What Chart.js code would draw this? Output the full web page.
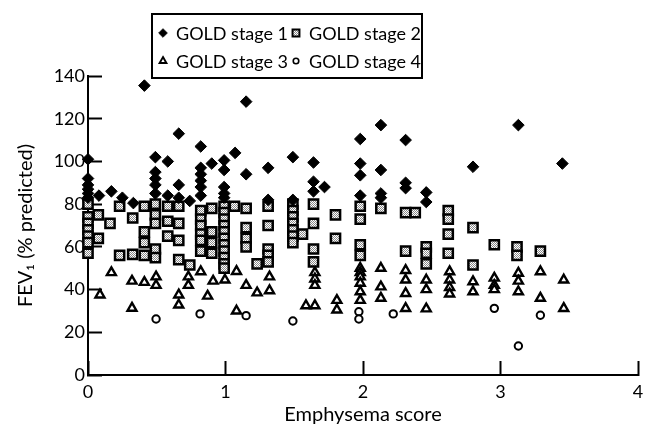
<!DOCTYPE html>
<html>
<head>
<meta charset="utf-8">
<script src="https://cdn.jsdelivr.net/npm/chart.js@4/dist/chart.umd.min.js"></script>
<style>
  html, body { margin: 0; padding: 0; background: #fff; }
  canvas { display: block; }
</style>
</head>
<body>
<canvas id="fev-chart" width="647" height="427"></canvas>
<script>
// Emphysema score columns and FEV1 values, per GOLD stage
const stage1Scores = [0, 0.08, 0.17, 0.25, 0.33, 0.41, 0.49, 0.58, 0.66, 0.74, 0.82, 0.9, 0.99, 1.07, 1.15, 1.31, 1.49, 1.64, 1.72, 1.98, 2.13, 2.31, 2.46, 2.8, 3.13, 3.45];
const stage1Fev = [[101, 92, 89, 87, 85, 83], [84], [86], [83], [80.5], [135.5], [102, 95, 92, 89, 85], [100, 84], [113, 89, 83], [81.5], [107, 97, 94, 91, 88, 84], [99], [100.5, 96, 88, 85, 83], [104], [128, 94], [97, 82], [102, 82], [99.5, 90.5, 86], [88], [110.5, 99, 93.5, 84], [117, 96, 85, 83], [110, 90, 87.5], [85.5, 81], [97.5], [117], [99]];

const stage2Scores = [0, 0.075, 0.16, 0.23, 0.325, 0.41, 0.49, 0.58, 0.66, 0.74, 0.82, 0.9, 0.99, 1.065, 1.15, 1.23, 1.31, 1.49, 1.56, 1.64, 1.8, 1.98, 2.13, 2.31, 2.38, 2.46, 2.62, 2.8, 2.955, 3.12, 3.29];
const stage2Fev = [[80, 74, 71, 68, 65, 62, 57], [75, 64], [71], [79, 56], [73.5, 56.5], [79, 67, 62, 56], [80, 75, 71, 59, 55], [79, 72, 65], [79, 71, 63, 54], [51.5], [77, 73, 70, 66, 63, 58], [78, 67, 62, 57], [79, 76, 73, 70, 67, 64, 61, 58, 55, 52, 50], [79], [78, 69, 64, 60], [52], [79, 70, 59, 56, 53], [80, 77, 74, 71, 68, 65, 62], [66], [80, 71, 59, 53], [75, 64], [79, 73, 61, 56], [78], [76, 58], [76], [60, 57, 52], [77, 73, 66, 57], [69, 51.5], [61], [60, 56], [58]];

const stage3Scores = [0.087, 0.17, 0.32, 0.41, 0.495, 0.66, 0.73, 0.82, 0.87, 0.91, 0.996, 1.08, 1.15, 1.23, 1.32, 1.585, 1.65, 1.81, 1.98, 2.13, 2.31, 2.46, 2.63, 2.8, 2.955, 3.13, 3.29, 3.46];
const stage3Fev = [[37.5], [48], [44, 31.3], [43.4], [46, 42], [37.5, 32.8], [46, 42], [48.4], [37], [44], [44.5], [48.5, 30], [42], [38.5], [46, 39.5], [32.5], [48, 45, 42, 32.5], [35, 30.5], [50, 48, 46, 43, 39, 35], [50, 41.3, 36], [49, 44.5, 38.2, 31.2], [44.5, 40, 31], [48.4, 44.5, 41, 38], [43.7, 39], [45.4, 42, 40], [47.7, 44, 39], [48.4, 36], [44.5, 31.2]];

const stage4Scores = [0.495, 0.815, 1.15, 1.49, 1.97, 2.22, 2.955, 3.13, 3.29];
const stage4Fev = [[26.2], [28.6], [27.8], [25.3], [29.6, 26.2], [28.6], [31.2], [13.6], [28]];

const xTicks = [0, 1, 2, 3, 4];
const yTicks = [0, 20, 40, 60, 80, 100, 120, 140];
const stageLabels = ['GOLD stage 1', 'GOLD stage 2', 'GOLD stage 3', 'GOLD stage 4'];

const FONT = 'Lato, "DejaVu Sans", sans-serif';

function toPoints(scores, fev) {
  const pts = [];
  scores.forEach((s, i) => fev[i].forEach(v => pts.push({ x: s, y: v })));
  return pts;
}

// speckled grey fill used by the square markers
function speckle() {
  const c = document.createElement('canvas');
  c.width = 2; c.height = 2;
  const g = c.getContext('2d');
  g.fillStyle = '#fff'; g.fillRect(0, 0, 2, 2);
  g.fillStyle = '#8a8a8a'; g.fillRect(0, 0, 1, 1); g.fillRect(1, 1, 1, 1);
  return g.createPattern(c, 'repeat');
}

const markers = [
  { pointStyle: 'rectRot', radius: 5.8, fill: '#000', borderWidth: 1 },
  { pointStyle: 'rect', radius: 6.5, fill: speckle(), borderWidth: 2.5 },
  { pointStyle: 'triangle', radius: 5.2, fill: '#fff', borderWidth: 2.4 },
  { pointStyle: 'circle', radius: 3.7, fill: '#fff', borderWidth: 2 }
];

const series = [
  toPoints(stage1Scores, stage1Fev),
  toPoints(stage2Scores, stage2Fev),
  toPoints(stage3Scores, stage3Fev),
  toPoints(stage4Scores, stage4Fev)
];

// boxed two-column legend above the plot
const boxLegend = {
  id: 'boxLegend',
  afterDraw(chart) {
    const ctx = chart.ctx;
    ctx.save();
    ctx.strokeStyle = '#000';
    ctx.lineWidth = 2;
    ctx.strokeRect(152, 14, 270, 64);
    ctx.font = '18px ' + FONT;
    ctx.textBaseline = 'middle';
    const spots = [[163, 33], [296, 33], [163, 61], [296, 61]];
    stageLabels.forEach((label, i) => {
      const m = markers[i];
      const [mx, my] = spots[i];
      ctx.fillStyle = m.fill;
      ctx.strokeStyle = '#000';
      ctx.lineWidth = m.borderWidth * 0.8;
      Chart.helpers.drawPoint(ctx, { pointStyle: m.pointStyle, radius: m.radius * 0.75, borderWidth: m.borderWidth, rotation: 0 }, mx, my);
      ctx.fillStyle = '#000';
      ctx.fillText(label, mx + 13, my + 1);
    });
    ctx.restore();
  }
};

// negative tickLength puts the tick marks inside the plot, as in the original
const innerGrid = { display: true, drawOnChartArea: false, drawTicks: true, tickLength: -14, tickWidth: 2, tickColor: '#000' };

new Chart(document.getElementById('fev-chart'), {
  type: 'scatter',
  data: {
    datasets: series.map((data, i) => ({
      label: stageLabels[i],
      data,
      pointStyle: markers[i].pointStyle,
      pointRadius: markers[i].radius,
      pointBackgroundColor: markers[i].fill,
      pointBorderColor: '#000',
      pointBorderWidth: markers[i].borderWidth,
      clip: false
    }))
  },
  options: {
    responsive: false,
    animation: false,
    events: [],
    layout: { padding: { top: 76, right: 9, left: 0, bottom: 0 } },
    plugins: { legend: { display: false }, tooltip: { enabled: false } },
    scales: {
      x: {
        type: 'linear', min: 0, max: 4,
        afterFit: s => { s.height = 52; s.paddingLeft = 0; s.paddingRight = 0; },
        grid: innerGrid,
        border: { color: '#000', width: 2 },
        afterBuildTicks: s => { s.ticks = xTicks.map(v => ({ value: v })); },
        ticks: { padding: 20, color: '#000', font: { family: FONT, size: 18 } },
        title: { display: true, text: 'Emphysema score', color: '#000', padding: { top: 0, bottom: 0 }, font: { family: FONT, size: 20 } }
      },
      y: {
        type: 'linear', min: 0, max: 140,
        afterFit: s => { s.width = 88; s.paddingTop = 0; s.paddingBottom = 0; },
        grid: innerGrid,
        border: { color: '#000', width: 2 },
        afterBuildTicks: s => { s.ticks = yTicks.map(v => ({ value: v })); },
        ticks: { padding: 17, color: '#000', font: { family: FONT, size: 18 } },
        title: { display: true, text: 'FEV\u2081 (% predicted)', color: '#000', padding: { top: 14, bottom: 0 }, font: { family: FONT, size: 20 } }
      }
    }
  },
  plugins: [boxLegend]
});
</script>
</body>
</html>
